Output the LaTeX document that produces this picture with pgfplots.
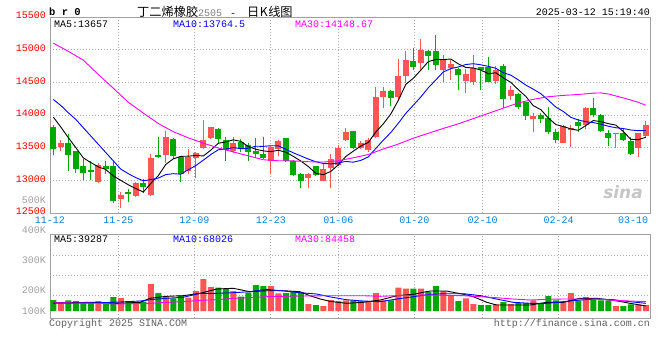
\documentclass[border=0pt]{standalone}
\usepackage{pgfplots}
\pgfplotsset{compat=1.18}
\usepackage{pgfplotstable}
\usepackage{fontspec}
\setmainfont{Liberation Mono}
\newfontfamily\cjk{Noto Sans CJK SC}
\newfontfamily\logofont{DejaVu Sans}
\definecolor{cred}{HTML}{FF5555}
\definecolor{cgreen}{HTML}{00A800}
\definecolor{mablue}{HTML}{0000FF}
\definecolor{mamag}{HTML}{FF00FF}
\definecolor{framegray}{HTML}{A0A0A0}
\definecolor{gridgray}{HTML}{AAAAAA}
\definecolor{datecol}{HTML}{0A7FD5}
\definecolor{pricered}{HTML}{FF0000}
\definecolor{volgray}{HTML}{A0A0A0}
\definecolor{footgray}{HTML}{606060}

% i open high low close volume
\pgfplotstableread{
i o h l c v
1 13511 13618 13450 13567 77
6 12969 13262 12959 13242 100
9 12714 12815 12582 12775 130
11 12765 12978 12749 12953 87
13 12775 13410 12765 13349 270
15 13395 13755 13273 13659 150
18 13141 13476 13095 13364 133
19 13349 13435 13039 13415 200
20 13496 13923 13476 13618 320
21 13643 13821 13638 13816 240
24 13445 13664 13425 13577 200
29 13298 13527 13095 13517 250
30 13476 13618 13374 13598 177
34 13039 13110 12876 13095 70
36 12993 13262 12988 13181 50
37 13191 13400 12876 13334 110
38 13232 13542 13222 13491 100
39 13618 13796 13608 13735 107
41 13496 13608 13486 13567 100
42 13466 13654 13435 13618 100
43 13664 14426 13654 14278 180
44 14278 14426 14111 14365 107
46 14278 14858 14212 14604 233
47 14593 14974 14492 14847 223
49 14797 15167 14695 14990 223
52 14695 14924 14502 14847 200
53 14720 14847 14543 14781 160
55 14527 14710 14339 14634 127
56 14502 14913 14466 14720 70
59 14527 14746 14482 14695 67
61 14289 14441 14228 14380 70
64 13943 14024 13740 13984 107
68 13577 13842 13567 13831 93
69 13771 13842 13511 13806 180
71 13842 14126 13781 14111 140
75 13704 13730 13501 13720 50
78 13501 13730 13364 13720 67
79 13679 13908 13669 13842 60
}\redtab

\pgfplotstableread{
i o h l c v
0 13816 13842 13384 13486 110
2 13567 13715 13146 13384 107
3 13445 13450 13110 13171 100
4 13222 13323 13008 13110 87
5 13161 13298 13003 13130 83
7 13222 13298 13095 13171 80
8 13222 13298 12653 12683 140
10 12815 12866 12663 12790 93
12 12958 13019 12805 12902 93
14 13384 13669 13349 13359 180
16 13628 13654 13334 13374 127
17 13364 13374 12968 13095 153
22 13791 13801 13560 13628 233
23 13618 13669 13298 13461 227
25 13587 13628 13435 13496 143
26 13537 13577 13298 13435 183
27 13450 13654 13349 13405 260
28 13400 13669 13334 13344 250
31 13643 13654 13283 13298 180
32 13298 13308 13070 13080 193
33 13100 13110 12876 12988 187
35 13217 13222 13070 13085 60
40 13750 13760 13476 13496 107
45 14365 14380 14136 14253 107
48 14832 15025 14685 14741 223
50 14974 14990 14695 14908 193
51 14985 15218 14695 14761 250
54 14705 14720 14380 14619 100
57 14731 14731 14390 14685 60
58 14731 14888 14502 14502 60
60 14746 14776 14101 14238 90
62 14329 14339 14085 14126 80
63 14197 14202 13923 13984 80
65 13994 14024 13872 13943 80
66 13948 14121 13704 13740 150
67 13745 13791 13567 13618 107
70 13892 13943 13740 13831 107
72 14101 14253 13969 13994 113
73 13994 14019 13745 13755 107
74 13720 13771 13527 13648 107
76 13720 13781 13603 13618 50
77 13598 13669 13384 13400 67
}\greentab

\pgfplotstableread{
i v
0 13969
1 13816
2 13654
3 13501
4 13344
5 13272
6 13207
7 13165
8 13067
9 13000
10 12932
11 12874
12 12821
13 12954
14 13071
15 13244
16 13329
17 13367
18 13370
19 13381
20 13373
21 13462
22 13568
23 13588
24 13620
25 13596
26 13519
27 13475
28 13451
29 13439
30 13460
31 13432
32 13367
33 13296
34 13212
35 13109
36 13086
37 13137
38 13237
39 13365
40 13447
41 13525
42 13581
43 13739
44 13865
45 14016
46 14224
47 14469
48 14562
49 14687
50 14818
51 14849
52 14849
53 14857
54 14783
55 14728
56 14720
57 14688
58 14632
59 14647
60 14568
61 14500
62 14388
63 14285
64 14142
65 14083
66 13955
67 13854
68 13823
69 13788
70 13765
71 13839
72 13915
73 13899
74 13868
75 13846
76 13747
77 13628
78 13621
79 13660
}\mafive

\pgfplotstableread{
i v
0 14238
1 14146
2 14035
3 13933
4 13806
5 13679
6 13552
7 13425
8 13298
9 13172
10 13102
11 13041
12 12993
13 13011
14 13035
15 13088
16 13102
17 13094
18 13162
19 13226
20 13309
21 13395
22 13468
23 13479
24 13501
25 13484
26 13491
27 13522
28 13520
29 13530
30 13528
31 13476
32 13421
33 13374
34 13326
35 13285
36 13259
37 13252
38 13267
39 13289
40 13278
41 13305
42 13359
43 13488
44 13615
45 13732
46 13874
47 14025
48 14150
49 14276
50 14417
51 14537
52 14659
53 14710
54 14735
55 14773
56 14785
57 14769
58 14745
59 14715
60 14648
61 14610
62 14538
63 14458
64 14395
65 14326
66 14228
67 14121
68 14054
69 13965
70 13924
71 13897
72 13884
73 13861
74 13828
75 13805
76 13793
77 13771
78 13760
79 13764
}\maten

\pgfplotstableread{
i v
0 15100
2 14975
4 14840
6 14620
8 14410
10 14195
12 14030
14 13870
16 13745
18 13650
20 13570
22 13495
24 13435
26 13375
28 13315
30 13300
32 13298
34 13285
36 13280
38 13300
40 13345
42 13395
44 13480
46 13555
48 13645
50 13720
52 13795
54 13865
56 13945
58 14025
60 14105
62 14185
64 14240
66 14280
68 14300
70 14314
72 14335
73 14338
74 14322
76 14262
78 14195
79 14149
}\mathirty

\pgfplotstableread{
i v
0 83
6.2 87
7.6 73
11.6 87
12.9 127
15.1 147
17.3 153
19.6 177
20.4 193
21.8 220
24 227
26.2 193
28.4 203
30.7 203
32.9 193
34.2 153
35.6 120
37 95
39.1 77
41.3 87
43.6 110
45.8 153
48 167
50.2 200
52.4 200
54.7 167
56 143
57.8 87
59.1 60
61.3 60
63.6 60
65.8 87
68 87
70.2 127
72.4 127
74.7 107
76.9 77
79 50
}\vfive

\pgfplotstableread{
i v
0 77
6.2 83
8 87
11.6 100
12.9 113
15.1 127
17.3 137
19.6 177
21.8 177
24 183
26.2 193
28.4 217
30.7 200
32.9 183
35.1 170
37 140
39.1 113
41.3 100
43.6 93
45.8 120
48 143
50.2 167
52.4 173
54.7 173
57 153
59.1 120
61.3 87
63.6 77
65.8 77
68 93
70.2 110
72.4 120
74.7 113
76.9 93
79 77
}\vten

\pgfplotstableread{
i v
0 83
6.2 77
8.4 70
12.9 77
15.1 87
17.3 93
19.6 107
21.8 113
24 127
26.2 133
28.4 143
32.9 150
37 153
41.3 153
43.6 147
45.8 153
50.2 160
54.7 153
57 143
59.1 133
61.3 120
63.6 110
65.8 117
68 120
72.4 120
74.7 107
76.9 100
79 93
}\vthirty

\newcommand{\tf}{\fontsize{10}{12}\selectfont}

\begin{document}
\begin{tikzpicture}
\path[use as bounding box] (0pt,0pt) rectangle (660pt,-360pt);

\pgfplotsset{
  sinaaxis/.style={
    scale only axis, width=600pt,
    xmin=-0.44, xmax=79.56,
    axis line style={draw=framegray, line width=1pt},
    major tick length=0pt,
    scaled ticks=false,
    tick label style={font=\tf},
    grid style={draw=gridgray, line width=0.8pt, dash pattern=on 1pt off 2pt},
    xtick={8.67,18.8,29,38,48.13,57.25,67.36},
    xmajorgrids,
  }
}

% ---------------- price panel ----------------
\begin{axis}[sinaaxis,
  at={(50pt,-213pt)}, anchor=south west, height=196pt,
  ymin=12500, ymax=15500,
  ytick={12500,13000,13500,14000,14500,15000,15500},
  yticklabels={12500,13000,13500,14000,14500,15000,15500},
  yticklabel style={color=pricered, anchor=east, inner sep=0pt, xshift=-4pt, yshift=1.5pt},
  ymajorgrids,
  xticklabels={11-25,12-09,12-23,01-06,01-20,02-10,02-24},
  xticklabel style={color=datecol, anchor=north, inner sep=0pt, yshift=-4pt},
  extra x ticks={-0.44,77.3},
  extra x tick labels={11-12,03-10},
  extra x tick style={grid=none},
]
% wicks
\addplot[draw=none, mark=none, forget plot, error bars/.cd, y dir=plus, y explicit, error mark=none,
  error bar style={draw=cred, line width=1pt}]
  table[x=i, y=l, y error plus expr=\thisrow{h}-\thisrow{l}] {\redtab};
\addplot[draw=none, mark=none, forget plot, error bars/.cd, y dir=plus, y explicit, error mark=none,
  error bar style={draw=cgreen, line width=1pt}]
  table[x=i, y=l, y error plus expr=\thisrow{h}-\thisrow{l}] {\greentab};
% bodies
\addplot[draw=none, mark=none, forget plot, error bars/.cd, y dir=plus, y explicit, error mark=none,
  error bar style={draw=cred, line width=6pt}]
  table[x=i, y=o, y error plus expr={max(\thisrow{c}-\thisrow{o},16)}] {\redtab};
\addplot[draw=none, mark=none, forget plot, error bars/.cd, y dir=plus, y explicit, error mark=none,
  error bar style={draw=cgreen, line width=6pt}]
  table[x=i, y=c, y error plus expr={max(\thisrow{o}-\thisrow{c},16)}] {\greentab};
% moving averages
\addplot[black, line width=0.9pt, mark=none] table[x=i, y=v] {\mafive};
\addplot[mablue, line width=0.9pt, mark=none] table[x=i, y=v] {\maten};
\addplot[mamag, line width=0.9pt, mark=none] table[x=i, y=v] {\mathirty};
\end{axis}

% ---------------- volume panel ----------------
\begin{axis}[sinaaxis,
  at={(50pt,-318pt)}, anchor=south west, height=84pt,
  ymin=-70, ymax=770,
  ytick={0,205,510},
  yticklabels={100K,200K,300K},
  yticklabel style={color=volgray, anchor=east, inner sep=0pt, xshift=-4pt},
  extra y ticks={160,360,560},
  extra y tick labels={},
  extra y tick style={grid=major},
  xticklabels={},
]
\addplot[ybar, bar width=6pt, bar shift=0pt, fill=cred, draw=none, forget plot] table[x=i, y=v] {\redtab};
\addplot[ybar, bar width=6pt, bar shift=0pt, fill=cgreen, draw=none, forget plot] table[x=i, y=v] {\greentab};
\addplot[black, line width=0.9pt, mark=none] table[x=i, y=v] {\vfive};
\addplot[mablue, line width=0.9pt, mark=none] table[x=i, y=v] {\vten};
\addplot[mamag, line width=0.9pt, mark=none] table[x=i, y=v] {\vthirty};
\end{axis}

% extra volume scale labels placed as Sina draws them
\node[anchor=east, inner sep=0pt, text=volgray, font=\tf] at (46pt,-230pt) {400K};
\node[anchor=east, inner sep=0pt, text=volgray, font=\tf] at (46pt,-200pt) {500K};

% header
\node[anchor=west, inner sep=0pt, font=\fontsize{10.5}{12}\selectfont\bfseries] at (49pt,-12pt) {b r 0};
\node[anchor=west, inner sep=0pt] at (137pt,-11.5pt) {{\cjk\fontsize{12.2}{14}\selectfont 丁二烯橡胶}{\tf\color{gray}2505}\hspace{8pt}{\tf -}\hspace{11pt}{\cjk\fontsize{12.2}{14}\selectfont 日\hspace{0.5pt}K\hspace{0.5pt}线图}};
\node[anchor=east, inner sep=0pt, font=\tf] at (650pt,-12pt) {2025-03-12 15:19:40};

% MA legends (price)
\node[anchor=west, inner sep=0pt, font=\tf] at (54pt,-24.5pt) {MA5:13657};
\node[anchor=west, inner sep=0pt, font=\tf, text=mablue] at (173pt,-24.5pt) {MA10:13764.5};
\node[anchor=west, inner sep=0pt, font=\tf, text=mamag] at (295pt,-24.5pt) {MA30:14148.67};
% MA legends (volume)
\node[anchor=west, inner sep=0pt, font=\tf] at (54pt,-239pt) {MA5:39287};
\node[anchor=west, inner sep=0pt, font=\tf, text=mablue] at (173pt,-239pt) {MA10:68026};
\node[anchor=west, inner sep=0pt, font=\tf, text=mamag] at (295pt,-239pt) {MA30:84458};

% watermark
\node[anchor=center, inner sep=0pt, text=gray!45, font=\logofont\bfseries\itshape\fontsize{17}{18}\selectfont] at (623pt,-192pt) {sina};

% footer
\node[anchor=west, inner sep=0pt, font=\tf, text=footgray] at (49pt,-324pt) {Copyright 2025 SINA.COM};
\node[anchor=east, inner sep=0pt, font=\tf, text=footgray] at (650pt,-324pt) {http://finance.sina.com.cn};
\end{tikzpicture}
\end{document}
